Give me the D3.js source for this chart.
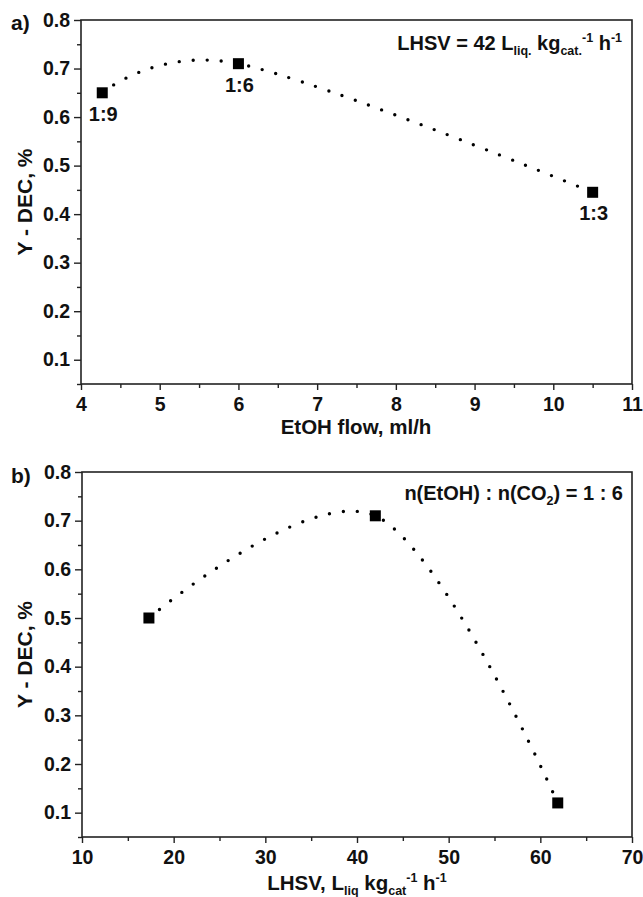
<!DOCTYPE html>
<html>
<head>
<meta charset="utf-8">
<script src="https://cdn.jsdelivr.net/npm/d3@7"></script>
<style>
  html, body { margin: 0; padding: 0; background: #fff; }
  svg { display: block; font-family: "Liberation Sans", Arial, sans-serif; font-weight: bold; }
</style>
</head>
<body>
<svg id="chart" width="643" height="897"></svg>
<script>
// ---- data ----
const flowA = [4.27, 6.0, 10.5];
const yieldA = [0.65, 0.71, 0.445];
const ratioLabelsA = ["1:9", "1:6", "1:3"];

const lhsvB = [17.3, 42.0, 61.9];
const yieldB = [0.50, 0.71, 0.12];

const xTicksA = [4, 5, 6, 7, 8, 9, 10, 11];
const xMinorA = [4.5, 5.5, 6.5, 7.5, 8.5, 9.5, 10.5];
const xTicksB = [10, 20, 30, 40, 50, 60, 70];
const xMinorB = [15, 25, 35, 45, 55, 65];
const yTicks = [0.1, 0.2, 0.3, 0.4, 0.5, 0.6, 0.7, 0.8];
const yMinor = [0.05, 0.15, 0.25, 0.35, 0.45, 0.55, 0.65, 0.75];

const svg = d3.select("#chart");
svg.append("rect").attr("width", 643).attr("height", 897).attr("fill", "#fff");

function panel(opts) {
  const { left, right, top, bottom, xDomain, xTicks, xMinor, xs, ys, panelLabel, labelBase } = opts;
  const x = d3.scaleLinear().domain(xDomain).range([left, right]);
  const y = d3.scaleLinear().domain([0.05, 0.8]).range([bottom, top]);
  const g = svg.append("g");

  // minor ticks
  g.append("g").attr("transform", `translate(${left},0)`)
    .call(d3.axisLeft(y).tickValues(yMinor).tickSize(4).tickFormat(""))
    .call(a => a.select(".domain").remove());
  g.append("g").attr("transform", `translate(0,${bottom})`)
    .call(d3.axisBottom(x).tickValues(xMinor).tickSize(4).tickFormat(""))
    .call(a => a.select(".domain").remove());

  // major axes
  const ya = g.append("g").attr("transform", `translate(${left},0)`)
    .call(d3.axisLeft(y).tickValues(yTicks).tickSize(7).tickPadding(4).tickFormat(d3.format(".1f")));
  const xa = g.append("g").attr("transform", `translate(0,${bottom})`)
    .call(d3.axisBottom(x).tickValues(xTicks).tickSize(6).tickPadding(7).tickFormat(d3.format("d")));
  [ya, xa].forEach(a => {
    a.select(".domain").remove();
    a.selectAll("text").attr("font-size", 19.5).attr("font-weight", "bold")
      .attr("font-family", "Liberation Sans, Arial, sans-serif").attr("fill", "#111");
  });
  g.selectAll(".tick line").attr("stroke", "#222").attr("stroke-width", 1.4);

  // frame
  g.append("rect").attr("x", left).attr("y", top)
    .attr("width", right - left).attr("height", bottom - top)
    .attr("fill", "none").attr("stroke", "#222").attr("stroke-width", 1.6);

  // dotted spline
  const pts = xs.map((v, i) => [x(v), y(ys[i])]);
  g.append("path").attr("d", d3.line().curve(d3.curveCardinal.tension(0))(pts))
    .attr("fill", "none").attr("stroke", "#000").attr("stroke-width", 3.4)
    .attr("stroke-linecap", "round").attr("stroke-dasharray", "0 14");

  // markers
  g.selectAll("rect.pt").data(pts).join("rect").attr("class", "pt")
    .attr("x", d => d[0] - 5.5).attr("y", d => d[1] - 5.5)
    .attr("width", 11).attr("height", 11).attr("fill", "#000");

  // y title
  g.append("text").attr("transform", `translate(32,${(top + bottom) / 2}) rotate(-90)`)
    .attr("text-anchor", "middle").attr("font-size", 21).attr("fill", "#111")
    .text("Y - DEC, %");

  // panel label
  g.append("text").attr("x", 11).attr("y", labelBase).attr("font-size", 21).attr("fill", "#111")
    .text(panelLabel);

  return { g, x, y, pts };
}

// ---- panel a ----
const A = panel({
  left: 81, right: 632, top: 20, bottom: 384,
  xDomain: [4, 11], xTicks: xTicksA, xMinor: xMinorA,
  xs: flowA, ys: yieldA, panelLabel: "a)", labelBase: 30
});
A.g.selectAll("text.rl").data(A.pts).join("text").attr("class", "rl")
  .attr("x", d => d[0] + 1).attr("y", d => d[1] + 28)
  .attr("text-anchor", "middle").attr("font-size", 20).attr("fill", "#111")
  .text((d, i) => ratioLabelsA[i]);

A.g.append("text").attr("x", 356).attr("y", 434).attr("text-anchor", "middle")
  .attr("font-size", 20.5).attr("fill", "#111").text("EtOH flow, ml/h");

const annA = A.g.append("text").attr("x", 622).attr("y", 50).attr("text-anchor", "end")
  .attr("font-size", 20).attr("fill", "#111");
annA.append("tspan").text("LHSV = 42 L");
annA.append("tspan").attr("font-size", 12.5).attr("dy", 5).text("liq.");
annA.append("tspan").attr("dy", -5).text(" kg");
annA.append("tspan").attr("font-size", 12.5).attr("dy", 5).text("cat.");
annA.append("tspan").attr("font-size", 12.5).attr("dy", -13).text("-1");
annA.append("tspan").attr("dy", 8).text(" h");
annA.append("tspan").attr("font-size", 12.5).attr("dy", -8).text("-1");

// ---- panel b ----
const B = panel({
  left: 82, right: 632, top: 472, bottom: 837,
  xDomain: [10, 70], xTicks: xTicksB, xMinor: xMinorB,
  xs: lhsvB, ys: yieldB, panelLabel: "b)", labelBase: 483
});

const tB = B.g.append("text").attr("x", 357).attr("y", 890).attr("text-anchor", "middle")
  .attr("font-size", 20.5).attr("fill", "#111");
tB.append("tspan").text("LHSV, L");
tB.append("tspan").attr("font-size", 12.5).attr("dy", 5).text("liq");
tB.append("tspan").attr("dy", -5).text(" kg");
tB.append("tspan").attr("font-size", 12.5).attr("dy", 5).text("cat");
tB.append("tspan").attr("font-size", 12.5).attr("dy", -13).text("-1");
tB.append("tspan").attr("dy", 8).text(" h");
tB.append("tspan").attr("font-size", 12.5).attr("dy", -8).text("-1");

const annB = B.g.append("text").attr("x", 623).attr("y", 500).attr("text-anchor", "end")
  .attr("font-size", 20).attr("fill", "#111");
annB.append("tspan").text("n(EtOH) : n(CO");
annB.append("tspan").attr("font-size", 12.5).attr("dy", 5).text("2");
annB.append("tspan").attr("dy", -5).text(") = 1 : 6");
</script>
</body>
</html>
